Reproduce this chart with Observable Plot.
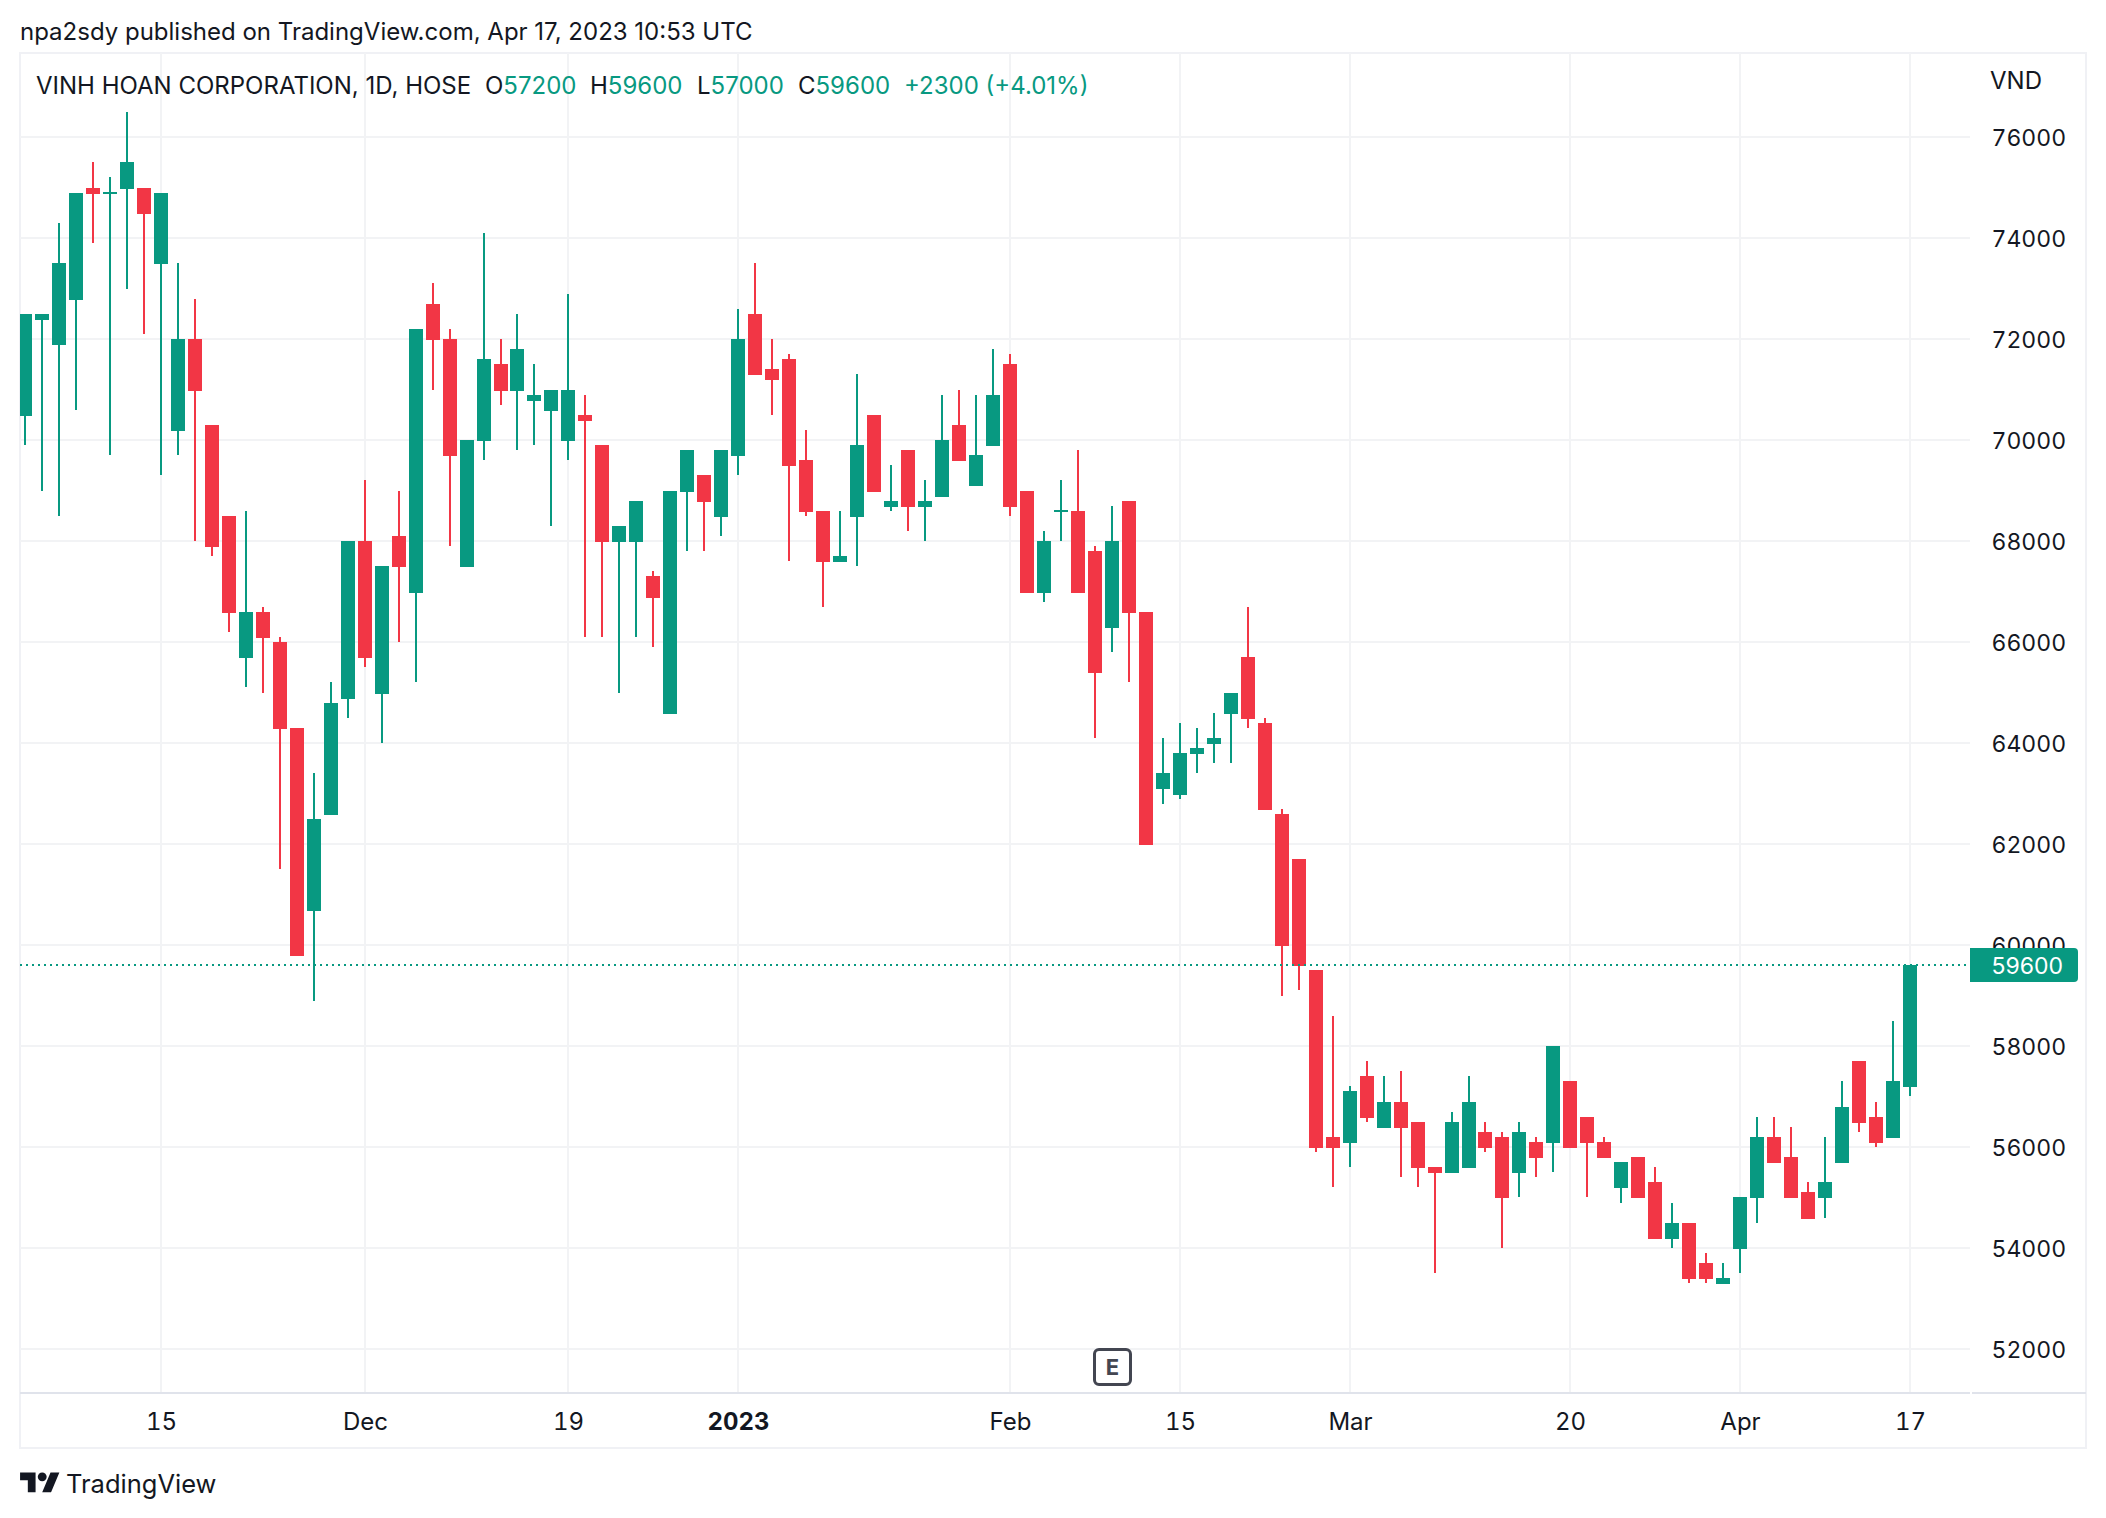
<!DOCTYPE html>
<html>
<head>
<meta charset="utf-8">
<script src="https://cdn.jsdelivr.net/npm/d3@7"></script>
<script src="https://cdn.jsdelivr.net/npm/@observablehq/plot@0.6"></script>
<style>
html,body{margin:0;padding:0;background:#fff;width:2106px;height:1518px;overflow:hidden}
body{position:relative;font-family:Inter,sans-serif;color:#131722}
.abs{position:absolute;white-space:pre;font-size:24px;line-height:28px}
.g{color:#089981}
#frame{position:absolute;left:19px;top:52px;width:2068px;height:1397px;box-sizing:border-box;border:2px solid #f0f1f5}
#axisExt{position:absolute;left:1972px;top:1392px;width:114px;height:2px;background:#e0e3eb}
#chart{position:absolute;left:0;top:0}
#badge{position:absolute;left:1093px;top:1348px;width:39px;height:38px;box-sizing:border-box;border:3px solid #434651;border-radius:6px;background:#fff;color:#434651;font-size:22px;font-weight:700;line-height:32px;text-align:center}
#logo{position:absolute;left:20px;top:1468px}
</style>
</head>
<body>
<div id="frame"></div>
<div id="axisExt"></div>
<div id="chart"></div>
<div class="abs" style="left:20px;top:18px">npa2sdy published on TradingView.com, Apr 17, 2023 10:53 UTC</div>
<div class="abs" style="left:36px;top:72px">VINH HOAN CORPORATION, 1D, HOSE</div>
<div class="abs" style="left:485px;top:72px">O<span class="g">57200</span></div>
<div class="abs" style="left:590px;top:72px">H<span class="g">59600</span></div>
<div class="abs" style="left:697px;top:72px">L<span class="g">57000</span></div>
<div class="abs" style="left:798px;top:72px">C<span class="g">59600</span></div>
<div class="abs g" style="left:904px;top:72px">+2300 (+4.01%)</div>
<div class="abs" style="left:1990px;top:67px">VND</div>
<div id="badge">E</div>
<svg id="logo" width="40" height="31" viewBox="0 0 36 28" fill="#131722"><path d="M14 22H7V11H0V4h14v18ZM28 22h-8l7.5-18h8L28 22Z"/><circle cx="20" cy="8" r="4"/></svg>
<div class="abs" style="left:66px;top:1470px;font-size:25.5px">TradingView</div>
<script>
// One value per trading session, oldest first (VND).
const opens = [70500,72400,71900,72800,75000,74900,75000,75000,73500,70200,72000,70300,68500,65700,66600,66000,64300,60700,62600,64900,68000,65000,68100,67000,72700,72000,67500,70000,71500,71000,70800,70600,70000,70500,69900,68000,68000,67300,64600,69000,69300,68500,69700,72500,71400,71600,69600,68600,67600,68500,70500,68700,69800,68700,68900,70300,69100,69900,71500,69000,67000,68600,68600,67800,66300,68800,66600,63100,63000,63800,64000,64600,65700,64400,62600,61700,59500,56200,56100,57400,56400,56900,56500,55600,55500,55600,56300,56200,55500,56100,56100,57300,56600,56100,55200,55800,55300,54200,54500,53700,53300,54000,55000,56200,55800,55100,55000,55700,57700,56600,56200,57200];
const highs = [72500,72500,74300,74900,75500,75200,76500,75000,74900,73500,72800,70300,68500,68600,66700,66100,64300,63400,65200,68000,69200,67500,69000,72200,73100,72200,70000,74100,72000,72500,71500,71000,72900,70900,69900,68300,68800,67400,69000,69800,69300,69800,72600,73500,72000,71700,70200,68600,68600,71300,70500,69500,69800,69200,70900,71000,70900,71800,71700,69000,68200,69200,69800,67900,68700,68800,66600,64100,64400,64300,64600,65000,66700,64500,62700,61700,59500,58600,57200,57700,57400,57500,56500,55600,56700,57400,56500,56300,56500,56200,58000,57300,56600,56200,55700,55800,55600,54900,54500,53900,53700,55000,56600,56600,56400,55300,56200,57300,57700,56900,58500,59600];
const lows = [69900,69000,68500,70600,73900,69700,73000,72100,69300,69700,68000,67700,66200,65100,65000,61500,59800,58900,62600,64500,65500,64000,66000,65200,71000,67900,67500,69600,70700,69800,69900,68300,69600,66100,66100,65000,66100,65900,64600,67800,67800,68100,69300,71300,70500,67600,68500,66700,67600,67500,69000,68600,68200,68000,68900,69600,69100,69900,68500,67000,66800,68000,67000,64100,65800,65200,62000,62800,62900,63400,63600,63600,64300,62700,59000,59100,55900,55200,55600,56500,56400,55400,55200,53500,55500,55600,55900,54000,55000,55400,55500,56000,55000,55800,54900,55000,54200,54000,53300,53300,53300,53500,54500,55700,55000,54600,54600,55700,56300,56000,56200,57000];
const closes = [72500,72500,73500,74900,74900,74900,75500,74500,74900,72000,71000,67900,66600,66600,66100,64300,59800,62500,64800,68000,65700,67500,67500,72200,72000,69700,70000,71600,71000,71800,70900,71000,71000,70400,68000,68300,68800,66900,69000,69800,68800,69800,72000,71300,71200,69500,68600,67600,67700,69900,69000,68800,68700,68800,70000,69600,69700,70900,68700,67000,68000,68600,67000,65400,68000,66600,62000,63400,63800,63900,64100,65000,64500,62700,60000,59600,56000,56000,57100,56600,56900,56400,55600,55500,56500,56900,56000,55000,56300,55800,58000,56000,56100,55800,55700,55000,54200,54500,53400,53400,53400,55000,56200,55700,55000,54600,55300,56800,56500,56100,57300,59600];

const priceTicks = [52000,54000,56000,58000,60000,62000,64000,66000,68000,70000,72000,74000,76000];
const timeTicks = [8,20,32,42,58,68,78,91,101,111];
const timeLabels = ["15","Dec","19","2023","Feb","15","Mar","20","Apr","17"];
const boldTicks = [42];
const lastClose = 59600;

const UP = "#089981", DOWN = "#F23645", GRID = "#f2f3f5", AXIS = "#e0e3eb", INK = "#131722";

const sessions = opens.map((open, i) => ({i, open, high: highs[i], low: lows[i], close: closes[i], top: Math.max(open, closes[i]), bottom: Math.min(open, closes[i]), color: closes[i] >= open ? UP : DOWN}));
const solid = sessions.filter(d => d.open !== d.close);
const flat = sessions.filter(d => d.open === d.close);
const labelOf = t => timeLabels[timeTicks.indexOf(t)];

const xDomain = [-0.2944, 114.53];
const yDomain = [51128.7, 77663.4];
const tagX = [114.53, 117.5, 120.89];
const tagHalf = 337;
const tagTextX = 115.77;
const fs = 24;
const priceFs = 23;

const plot = Plot.plot({
  width: 2106, height: 1518,
  marginLeft: 20, marginRight: 136, marginTop: 53, marginBottom: 125,
  x: {domain: xDomain, round: true, label: null},
  y: {domain: yDomain, round: true, label: null},
  style: {background: "transparent", fontFamily: "Inter, sans-serif", fontSize: fs + "px", color: INK},
  marks: [
    Plot.ruleX(timeTicks, {x: d => d, stroke: GRID, strokeWidth: 2, dx: -0.5}),
    Plot.ruleY(priceTicks, {y: d => d, stroke: GRID, strokeWidth: 2, dy: -0.5}),
    Plot.ruleY([yDomain[0]], {y: d => d, stroke: AXIS, strokeWidth: 2, dy: -0.5}),
    Plot.ruleX(sessions, {x: "i", y1: "high", y2: "low", stroke: "color", strokeWidth: 2, dx: -0.5, clip: true}),
    Plot.ruleX(solid, {x: "i", y1: "top", y2: "bottom", insetBottom: -1, stroke: "color", strokeWidth: 14, dx: -0.5, clip: true}),
    Plot.ruleY(flat, {y: "close", x1: d => d.i - 0.412, x2: d => d.i + 0.412, stroke: "color", strokeWidth: 2, dy: -0.5, clip: true}),
    Plot.ruleY([lastClose], {y: d => d, stroke: UP, strokeWidth: 2, strokeDasharray: "2 4", dy: -0.5}),
    Plot.axisY(priceTicks, {anchor: "right", tickSize: 0, tickPadding: 21, tickFormat: d => String(d), fontSize: priceFs, dy: 1, label: null, fill: INK}),
    Plot.axisX(timeTicks.filter(t => !boldTicks.includes(t)), {anchor: "bottom", tickSize: 0, tickPadding: 19, tickFormat: labelOf, fontSize: fs, label: null, fill: INK}),
    Plot.axisX(boldTicks, {anchor: "bottom", tickSize: 0, tickPadding: 19, tickFormat: labelOf, fontSize: fs, fontWeight: 700, label: null, fill: INK}),
    Plot.rect([lastClose], {x1: tagX[0], x2: tagX[1], y1: d => d - tagHalf, y2: d => d + tagHalf, fill: UP}),
    Plot.rect([lastClose], {x1: tagX[0], x2: tagX[2], y1: d => d - tagHalf, y2: d => d + tagHalf, fill: UP, rx: 4}),
    Plot.text([lastClose], {x: tagTextX, y: d => d, text: d => String(d), textAnchor: "start", fill: "#fff", fontSize: priceFs, dy: 1})
  ]
});
document.getElementById("chart").appendChild(plot);
</script>
</body>
</html>
